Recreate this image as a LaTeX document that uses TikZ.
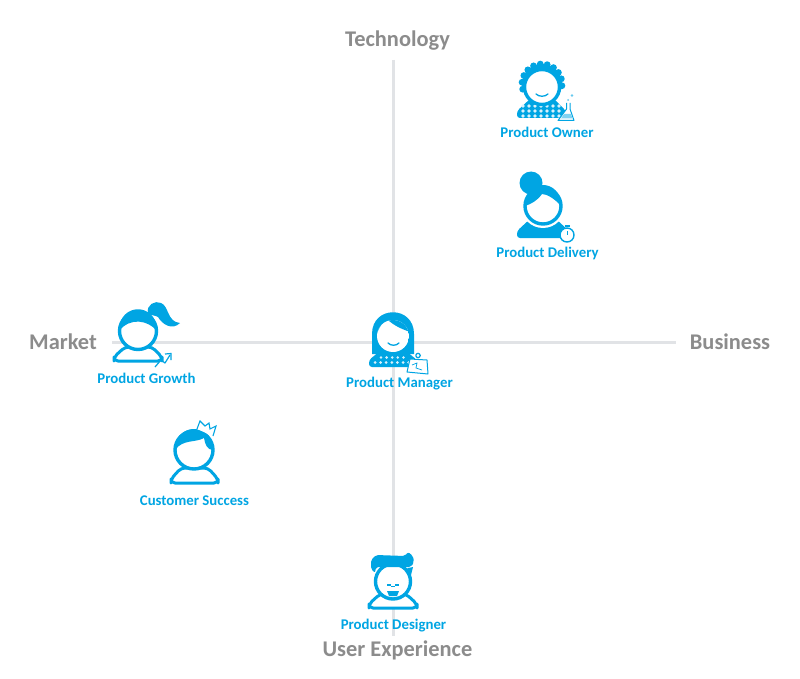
\documentclass[tikz,border=0pt]{standalone}
\usepackage{fontspec}
\setmainfont{Carlito}
\usetikzlibrary{positioning}
\definecolor{roleblue}{HTML}{00A5E3}
\definecolor{axisgrey}{HTML}{E1E3E6}
\definecolor{titlegrey}{HTML}{8C8C8C}
\tikzset{
  axisline/.style={axisgrey,line width=3pt},
  axistitle/.style={titlegrey,font=\fontsize{22.4}{26}\selectfont\bfseries,inner sep=0pt},
  rolename/.style={roleblue,font=\fontsize{14.8}{17}\selectfont\bfseries,inner sep=0pt},
  face/.style={draw=roleblue,fill=white,line width=3.4pt},
  thin part/.style={draw=roleblue,fill=white,line width=1pt,line join=round},
  shoulders/.style={draw=roleblue,fill=white,line width=3pt,rounded corners=4pt,line join=round}
}
\begin{document}
\begin{tikzpicture}[x=1pt,y=-1pt]
\useasboundingbox (0,0) rectangle (800,679);
\fill[white] (0,0) rectangle (800,679);
% axes
\node[axistitle] (technology) at (397.5,40.5) {Technology};
\node[axistitle] (experience) at (397.5,650) {User Experience};
\node[axistitle] (market) at (63,342) {Market};
\node[axistitle] (business) at (730,342) {Business};
\coordinate (axistop) at (393,60);
\coordinate (axisbottom) at (393,636);
\coordinate (axisleft) at (112,342);
\coordinate (axisright) at (676,342);
\draw[axisline] (axistop)--(axisbottom);
\draw[axisline] (axisleft)--(axisright);
% product owner
\fill[roleblue,rounded corners=3pt] (517,118)--(517,111)--(530,99)--(554,99)--(566,111)--(566,118)--cycle;
\foreach \i in {0,...,6} {\foreach \j in {0,1,2} {\fill[white!85!roleblue] (\i*6+523,\j*5+106)circle(1.9);}}
\fill[roleblue] (542,84) circle (20);
\foreach \a in {165,185,...,375} {\fill[roleblue] (542,84)++(\a:20)circle(3.4);}
\draw[face] (542,87) circle (17.5);
\draw[roleblue,line width=1.3pt,line cap=round] (536,94) .. controls (539,97) and (545,97) .. (548,94);
\draw[thin part] (566.5,103)--(566.5,109)--(558,120.5)--(574,120.5)--(570,109)--(570,103);
\fill[roleblue!50] (561,118.5)--(564,114)--(571,114)--(572.5,118.5)--cycle;
\fill[roleblue!60] (568,100) circle (1) (572,95.5) circle (1.3);
\node[rolename] (owner) at (547,132.5) {Product Owner};
% product delivery
\fill[roleblue,rounded corners=3pt] (517,238)--(517,231)--(530,219)--(556,219)--(569,231)--(569,238)--cycle;
\fill[white] (543,206) circle (22);
\fill[roleblue] (531,183) circle (11.5);
\draw[face] (543,206) circle (18);
\fill[roleblue] (525,206) .. controls (525,178) and (561,178) .. (561,206) .. controls (555,199) and (547,194) .. (542,194) .. controls (537,201) and (531,204) .. (525,206)--cycle;
\draw[thin part,line width=1.4pt] (567,235) circle (7);
\draw[roleblue,line width=0.9pt] (567,231)--(567,235);
\draw[roleblue,line width=1.5pt] (564.5,226)--(569.5,226);
\node[rolename] (delivery) at (547.5,253.5) {Product Delivery};
% product growth
\draw[shoulders] (114,361)--(114,357)--(125,347)--(152,347)--(162,357)--(162,361)--cycle;
\draw[face] (138,331) circle (18.5);
\fill[roleblue] (119,331) .. controls (119,302) and (157,302) .. (157,331) .. controls (148,320) and (130,317) .. (119,331)--cycle;
\fill[roleblue] (148,313) .. controls (146,305) and (155,300) .. (161,303) .. controls (169,306) and (167,322) .. (180,323) .. controls (172,331) and (162,324) .. (158,317) .. controls (155,315) and (151,316) .. (148,313)--cycle;
\draw[roleblue,line width=1.2pt,line join=round] (155,367)--(161,360)--(165,363)--(170,355);
\draw[roleblue,line width=1.2pt] (165,354)--(171,353.5)--(171,360);
\node[rolename] (growth) at (146.5,378.5) {Product Growth};
% product manager
\fill[roleblue,rounded corners=3pt] (369,367)--(369,360)--(380,351)--(406,351)--(417,360)--(417,367)--cycle;
\fill[roleblue] (372,354)--(372,334) .. controls (372,305) and (414,305) .. (414,334)--(414,354)--cycle;
\foreach \i in {0,...,6} {\fill[white!85!roleblue] (\i*5.6+375,362.5) circle (1.5);}
\foreach \i in {0,...,4} {\fill[white!85!roleblue] (\i*5.6+381,357.5) circle (1.4);}
\begin{scope}
\clip (393,336) circle (16);
\fill[white] (377,320) rectangle (409,352);
\fill[roleblue] (376,337) .. controls (378,328) and (383,322) .. (387,319) .. controls (394,326) and (402,329) .. (410,332)--(410,315)--(376,315)--cycle;
\end{scope}
\draw[roleblue,line width=1.3pt,line cap=round] (388,343) .. controls (391,346) and (396,346) .. (399,343);
\draw[thin part] (410,359)--(427,360)--(428,374)--(407,372)--cycle;
\draw[roleblue,line width=0.7pt] (412,365)--(417,363)--(416,368)--(422,370);
\draw[thin part,line width=1.2pt] (418,355.5) circle (2.2);
\node[rolename] (manager) at (399.5,383.5) {Product Manager};
% customer success
\draw[shoulders] (171,483)--(171,479)--(181,468)--(208,468)--(218,479)--(218,483)--cycle;
\draw[face] (194,450) circle (19);
\fill[roleblue] (175,450) .. controls (175,422) and (213,422) .. (213,450) .. controls (207,450) and (205,444) .. (204,438) .. controls (195,443) and (183,439) .. (175,450)--cycle;
\draw[roleblue,fill=white,line width=1.1pt,line join=miter] (197,429)--(200,421)--(205,426)--(209,423)--(210,429)--(216,426)--(213,436);
\node[rolename] (success) at (194.5,500.5) {Customer Success};
% product designer
\draw[shoulders] (369,608)--(369,604)--(380,594)--(406,594)--(417,604)--(417,608)--cycle;
\draw[face] (393,581.5) circle (17.5);
\fill[roleblue,rounded corners=2pt] (371,569)--(371,560)--(376,555)--(405,556)--(408,552)--(413,556)--(414,562)--(411,567)--(376,567)--(375,573)--cycle;
\fill[roleblue] (408,568) .. controls (404,570) and (405,575) .. (411,575)--(413,567)--cycle;
\draw[roleblue,line width=1.5pt] (387,585)--(391,585) (395,585)--(399,585);
\draw[roleblue,line width=1.2pt] (391,586.5)--(395,586.5);
\fill[roleblue] (387,591)--(399,591)--(397,596)--(389,596)--cycle;
\node[rolename] (designer) at (393.5,625.5) {Product Designer};
\end{tikzpicture}
\end{document}
